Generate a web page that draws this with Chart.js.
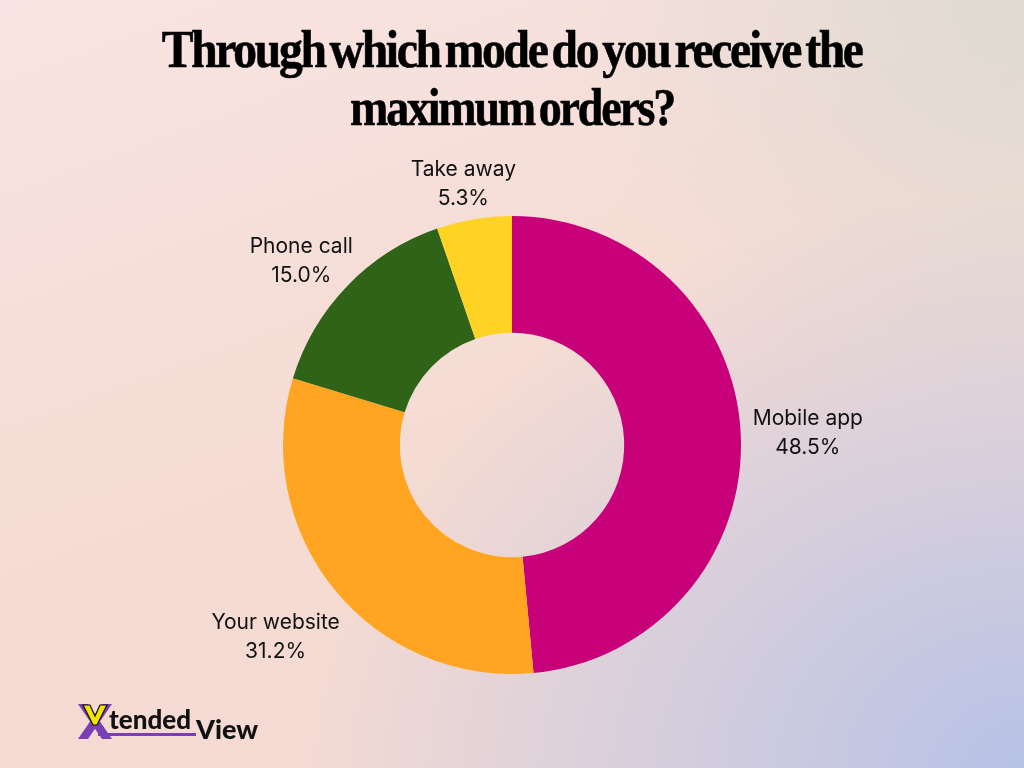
<!DOCTYPE html>
<html>
<head>
<meta charset="utf-8">
<title>Orders by mode</title>
<script src="https://cdn.jsdelivr.net/npm/chart.js@4.4.1/dist/chart.umd.min.js"></script>
<style>
    html, body {
        margin: 0;
        padding: 0;
        width: 1024px;
        height: 768px;
        overflow: hidden;
    }
    body {
        position: relative;
        background:
            radial-gradient(ellipse 70% 75% at 100% 100%, rgba(183, 194, 230, 1) 0%, rgba(183, 194, 230, 0) 100%),
            radial-gradient(ellipse 45% 55% at 100% 0%, rgba(222, 218, 210, 1) 0%, rgba(222, 218, 210, 0) 100%),
            linear-gradient(160deg, #f8e4e2 0%, #f5dbd2 55%, #f2d9d4 100%);
        font-family: 'Inter', sans-serif;
    }
    .title {
        position: absolute;
        left: 0;
        width: 1024px;
        text-align: center;
        font-family: 'Liberation Serif', 'DejaVu Serif', serif;
        font-weight: bold;
        font-size: 52px;
        color: #000;
        white-space: nowrap;
        line-height: 1;
    }
    .title span {
        display: inline-block;
        letter-spacing: -2.5px;
        word-spacing: -5px;
        transform-origin: center;
        -webkit-text-stroke: 0.6px #000;
    }
    #chartWrap {
        position: absolute;
        left: 0;
        top: 0;
        width: 1024px;
        height: 768px;
    }
    #logo {
        position: absolute;
        left: 74px;
        top: 698px;
    }
</style>
</head>
<body>
<div class="title" style="top: 24px;"><span data-w="700">Through which mode do you receive the</span></div>
<div class="title" style="top: 82px;"><span data-w="324">maximum orders?</span></div>

<div id="chartWrap"><canvas id="ordersChart" width="1024" height="768"></canvas></div>

<svg id="logo" width="200" height="50" viewBox="0 0 200 50">
    <!-- X mark -->
    <polygon points="4,6 14,6 38,41 28,41" fill="#7b3fb5"/>
    <polygon points="28,6 38,6 14,41 4,41" fill="#7b3fb5"/>
    <polygon points="9,7 16,7 21,18 26,7 33,7 23,27 19,27" fill="#f2e300" stroke="#111" stroke-width="1.2"/>
    <rect x="24" y="35" width="98" height="3" fill="#7b3fb5"/>
    <text x="35" y="31" font-family="Lato, 'DejaVu Sans', sans-serif" font-weight="900" font-size="26" fill="#111">tended</text>
    <text x="122" y="41" font-family="Lato, 'DejaVu Sans', sans-serif" font-weight="900" font-size="27" fill="#111">View</text>
</svg>

<script>
    // Chart data
    const labels = ['Mobile app', 'Your website', 'Phone call', 'Take away'];
    const shares = [48.5, 31.2, 15.0, 5.3];
    const colors = ['#c8007a', '#ffa521', '#2f6318', '#ffd323'];

    // Fit the title lines to the reference widths
    document.querySelectorAll('.title span').forEach(span => {
        const target = parseFloat(span.dataset.w);
        const w = span.getBoundingClientRect().width;
        span.style.transform = `scaleX(${target / w})`;
    });

    // Outside labels: name on the first line, share on the second
    const outsideLabels = {
        id: 'outsideLabels',
        afterDatasetsDraw(chart) {
            const ctx = chart.ctx;
            const meta = chart.getDatasetMeta(0);
            ctx.save();
            ctx.font = '21px Inter, sans-serif';
            ctx.fillStyle = '#111';
            ctx.textAlign = 'center';
            ctx.textBaseline = 'middle';
            meta.data.forEach((arc, i) => {
                const { x, y, startAngle, endAngle, outerRadius } = arc.getProps(['x', 'y', 'startAngle', 'endAngle', 'outerRadius'], true);
                const mid = (startAngle + endAngle) / 2;
                const dx = Math.cos(mid);
                const dy = Math.sin(mid);
                const line1 = labels[i];
                const line2 = shares[i].toFixed(1) + '%';
                const halfW = Math.max(ctx.measureText(line1).width, ctx.measureText(line2).width) / 2;
                const halfH = 24;
                const px = x + (outerRadius + 12) * dx;
                const py = y + (outerRadius + 12) * dy;
                const cx = px + dx * halfW;
                const cy = py + dy * halfH * (dy > 0 ? 2.6 : 1);
                ctx.fillText(line1, cx, cy - 14);
                ctx.fillText(line2, cx, cy + 15);
            });
            ctx.restore();
        }
    };

    new Chart(document.getElementById('ordersChart'), {
        type: 'doughnut',
        data: {
            labels: labels,
            datasets: [{
                data: shares,
                backgroundColor: colors,
                borderWidth: 0
            }]
        },
        options: {
            responsive: false,
            animation: false,
            cutout: '49%',
            layout: {
                padding: { top: 216, bottom: 94, left: 200, right: 200 }
            },
            plugins: {
                legend: { display: false },
                tooltip: { enabled: false }
            }
        },
        plugins: [outsideLabels]
    });
</script>
</body>
</html>
